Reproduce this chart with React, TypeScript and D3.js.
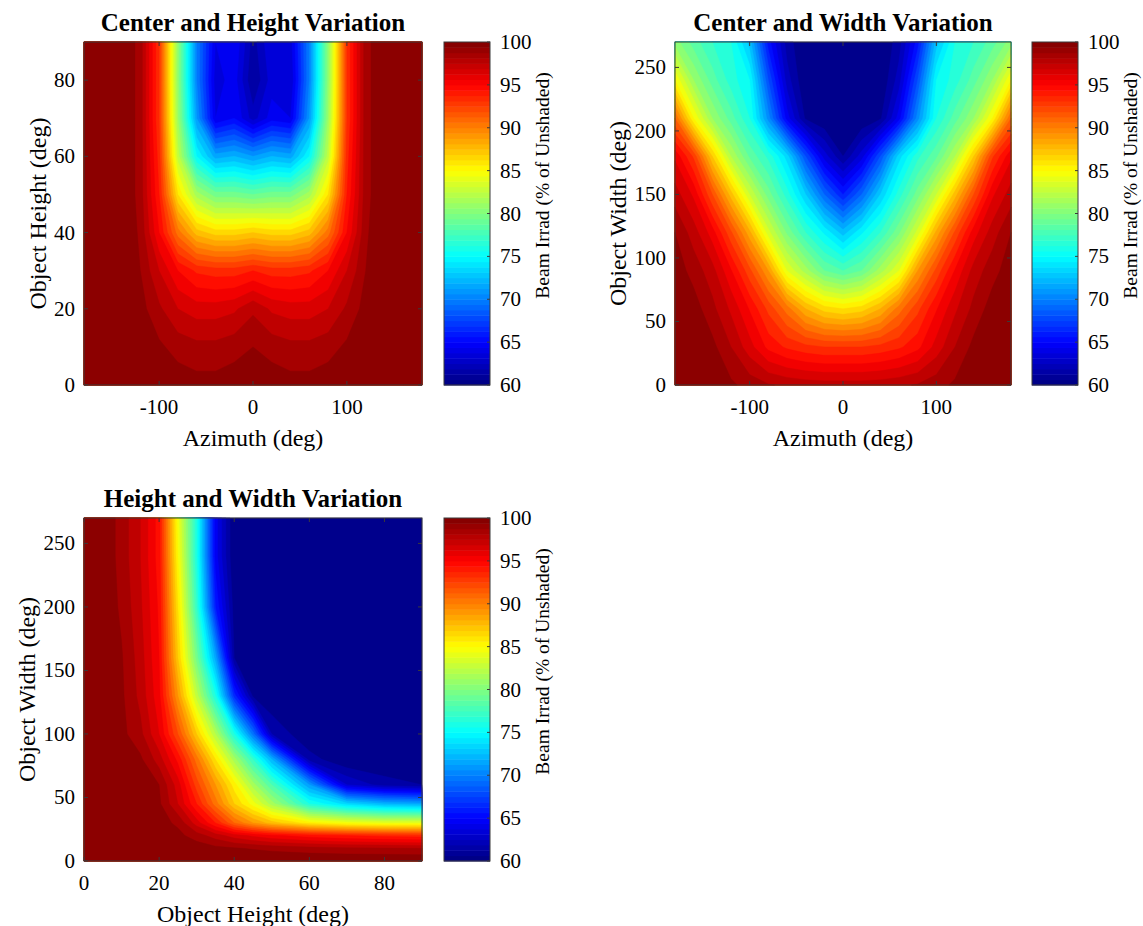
import React from 'react';
import * as d3 from 'd3';

const FONT = '"Liberation Serif", "Times New Roman", serif';

// ---- Center and Height Variation (azimuth x object height) ----
const azimuthCols = [-180, -160, -140, -120, -100, -80, -60, -40, -20, 0, 20, 40, 60, 80, 100, 120, 140, 160, 180];
const heightRowsA = [0, 10, 20, 30, 40, 50, 60, 70, 80, 90];
const irradCenterHeight = [
  [100, 100, 100, 100, 99.8, 99.6, 99.4, 99.4, 99.6, 99.8, 99.6, 99.4, 99.4, 99.6, 99.8, 100, 100, 100, 100],
  [100, 100, 100, 99.7, 99.2, 98.6, 98.3, 98.3, 98.6, 99, 98.6, 98.3, 98.3, 98.6, 99.2, 99.7, 100, 100, 100],
  [100, 100, 100, 99.4, 98.2, 97, 96.5, 96.5, 96.8, 97.8, 96.8, 96.5, 96.5, 97, 98.2, 99.4, 100, 100, 100],
  [100, 100, 100, 99, 97, 95, 93.8, 93.5, 93.5, 94, 93.5, 93.5, 93.8, 95, 97, 99, 100, 100, 100],
  [100, 100, 100, 98.8, 95, 90.5, 87.5, 86.5, 86.5, 87, 86.5, 86.5, 87.5, 90.5, 95, 98.8, 100, 100, 100],
  [100, 100, 100, 98.6, 94, 86, 81.5, 79.5, 79.5, 79, 79.5, 79.5, 81.5, 86, 94, 98.6, 100, 100, 100],
  [100, 100, 100, 98.6, 93.5, 82.5, 75, 71.5, 72, 71, 72, 71.5, 75, 82.5, 93.5, 98.6, 100, 100, 100],
  [100, 100, 100, 98.6, 93, 81, 71, 64, 65, 62.5, 64.5, 64, 71, 81, 93, 98.6, 100, 100, 100],
  [100, 100, 100, 98.6, 93, 80.5, 70, 63.5, 64.5, 61, 63.5, 63, 70, 80.5, 93, 98.6, 100, 100, 100],
  [100, 100, 100, 98.6, 93, 80.5, 70, 64, 65, 61.5, 64, 63.5, 70, 80.5, 93, 98.6, 100, 100, 100],
];

// ---- Center and Width Variation (azimuth x object width) ----
const widthRowsB = [0, 30, 60, 90, 120, 150, 180, 210, 240, 270];
const irradCenterWidth = [
  [100, 100, 99.8, 99.2, 98.6, 98.1, 97.8, 97.6, 97.5, 97.5, 97.5, 97.6, 97.8, 98.1, 98.6, 99.2, 99.8, 100, 100],
  [100, 100, 99.3, 98, 96.4, 94.7, 93.8, 93.3, 93, 93, 93, 93.3, 93.8, 94.7, 96.4, 98, 99.3, 100, 100],
  [100, 99.5, 98.3, 96.8, 94.9, 92.7, 90.5, 88, 86.5, 86, 86.5, 88, 90.5, 92.7, 94.9, 96.8, 98.3, 99.5, 100],
  [99.6, 98.6, 97.4, 95.1, 92.3, 89, 84, 81.5, 79, 78, 79, 81.5, 84, 89, 92.3, 95.1, 97.4, 98.6, 99.6],
  [99, 97.5, 95.5, 92.2, 88.3, 83.4, 79.8, 77, 74.8, 72.5, 74.8, 77, 79.8, 83.4, 88.3, 92.2, 95.5, 97.5, 99],
  [97.5, 95.8, 92, 87.5, 83, 79.5, 76.5, 73, 69, 66, 69, 73, 76.5, 79.5, 83, 87.5, 92, 95.8, 97.5],
  [95.8, 92.8, 87, 82, 78.8, 76.7, 73.5, 68, 63.5, 61, 63.5, 68, 73.5, 76.7, 78.8, 82, 87, 92.8, 95.8],
  [91, 85, 81, 78.5, 76, 70.5, 64.5, 60.8, 60, 60, 60, 60.8, 64.5, 70.5, 76, 78.5, 81, 85, 91],
  [85, 81, 78.5, 76.5, 75, 68, 62.5, 60, 60, 60, 60, 60, 62.5, 68, 75, 76.5, 78.5, 81, 85],
  [80.5, 78.5, 77, 76, 72.5, 65.5, 61.5, 60, 60, 60, 60, 60, 61.5, 65.5, 72.5, 76, 77, 78.5, 80.5],
];

// ---- Height and Width Variation (object height x object width) ----
const heightColsC = [0, 5, 10, 15, 20, 25, 30, 35, 40, 45, 50, 60, 70, 80, 90];
const widthRowsC = [0, 10, 20, 30, 45, 60, 80, 100, 130, 160, 200, 240, 270];
const irradHeightWidth = [
  [100, 100, 100, 100, 100, 100, 100, 100, 100, 100, 100, 100, 100, 100, 100],
  [100, 100, 100, 100, 100, 99.9, 99.6, 99.3, 99.1, 98.9, 98.7, 98.4, 98.2, 98.1, 98],
  [100, 100, 100, 99.9, 99.7, 99.3, 98.5, 97.5, 96.5, 95.8, 95.2, 94.5, 94, 93.7, 93.5],
  [100, 100, 99.9, 99.7, 99.4, 98.8, 96.5, 94, 91, 89, 87.5, 85.5, 84.5, 84, 84],
  [100, 99.9, 99.8, 99.6, 99.2, 97, 94, 90.5, 87, 84.5, 81.5, 76, 73.5, 72, 71.5],
  [100, 99.9, 99.7, 99.4, 99, 96.5, 92.5, 89, 85.5, 81.5, 78, 71, 63, 61.5, 61],
  [100, 99.9, 99.6, 99.2, 97.5, 94.7, 90.5, 86, 81.5, 77, 72, 61.5, 60, 60, 60],
  [100, 99.8, 99.3, 98.3, 96, 92, 87, 82, 76, 69.5, 62, 60, 60, 60, 60],
  [100, 99.8, 99.2, 97.7, 95.3, 89, 82.5, 76, 66.5, 60.8, 60, 60, 60, 60, 60],
  [100, 99.8, 99.1, 97.5, 95, 87, 79.5, 71.5, 61, 60, 60, 60, 60, 60, 60],
  [100, 99.8, 98.8, 97.2, 94.8, 86, 77, 66, 60.5, 60, 60, 60, 60, 60, 60],
  [100, 99.8, 98.6, 97, 94.5, 85, 76, 64.5, 60, 60, 60, 60, 60, 60, 60],
  [100, 99.8, 98.6, 97, 94.5, 84.5, 76, 64.5, 60, 60, 60, 60, 60, 60, 60],
];

const azimuthTicks = [-100, 0, 100];
const heightTicks = [0, 20, 40, 60, 80];
const widthTicks = [0, 50, 100, 150, 200, 250];
const colorTicks = [60, 65, 70, 75, 80, 85, 90, 95, 100];
const levels = d3.range(60, 100, 1);

function jet(t: number) {
  const c = (v: number) => Math.max(0, Math.min(1, v));
  const r = c(1.5 - Math.abs(4 * t - 3));
  const g = c(1.5 - Math.abs(4 * t - 2));
  const b = c(1.5 - Math.abs(4 * t - 1));
  return d3.rgb(r * 255, g * 255, b * 255).formatHex();
}

const levelColor = (v: number) => jet((v - 60) / 40);

type PanelProps = {
  left: number; top: number; width: number; height: number;
  cols: number[]; rows: number[]; grid: number[][];
  xTicks: number[]; yTicks: number[];
  title: string; xLabel: string; yLabel: string;
  yLabelX: number; cbLeft: number;
};

function Panel(p: PanelProps) {
  const { left, top, width, height, cols, rows, grid } = p;
  const nx = cols.length, ny = rows.length;
  const x = d3.scaleLinear().domain([cols[0], cols[nx - 1]]).range([left, left + width]);
  const y = d3.scaleLinear().domain([rows[0], rows[ny - 1]]).range([top + height, top]);
  // grid index -> data value (rows/cols may be unevenly spaced)
  const colAt = d3.scaleLinear().domain(d3.range(nx)).range(cols).clamp(true);
  const rowAt = d3.scaleLinear().domain(d3.range(ny)).range(rows).clamp(true);
  const proj = d3.geoTransform({
    point: function (this: any, gx: number, gy: number) {
      this.stream.point(x(colAt(gx - 0.5)), y(rowAt(gy - 0.5)));
    },
  });
  const path = d3.geoPath(proj);
  const bands = d3.contours().size([nx, ny]).thresholds(levels)(grid.flat());

  const cbW = 46;
  const cb = d3.scaleLinear().domain([60, 100]).range([top + height, top]);
  const cbSteps = d3.range(64);
  const tick = 4;
  const stroke = '#3a3a3a';
  const midX = left + width / 2;
  const midY = top + height / 2;

  return (
    <g>
      <g>
        {bands.map((b, i) => (
          <path key={i} d={path(b as any) || ''} fill={levelColor(b.value + 0.5)}
            stroke={levelColor(b.value + 0.5)} strokeWidth={0.4} />
        ))}
      </g>
      <rect x={left} y={top} width={width} height={height} fill="none" stroke={stroke} strokeWidth={1} />
      {p.xTicks.map((t) => (
        <g key={'x' + t}>
          <line x1={x(t)} x2={x(t)} y1={top + height} y2={top + height - tick} stroke={stroke} />
          <line x1={x(t)} x2={x(t)} y1={top} y2={top + tick} stroke={stroke} />
          <text x={x(t)} y={top + height + 29} textAnchor="middle" fontSize={21} fontFamily={FONT}>{t}</text>
        </g>
      ))}
      {p.yTicks.map((t) => (
        <g key={'y' + t}>
          <line x1={left} x2={left + tick} y1={y(t)} y2={y(t)} stroke={stroke} />
          <line x1={left + width} x2={left + width - tick} y1={y(t)} y2={y(t)} stroke={stroke} />
          <text x={left - 9} y={y(t) + 7} textAnchor="end" fontSize={21} fontFamily={FONT}>{t}</text>
        </g>
      ))}
      <text x={midX} y={top - 11} textAnchor="middle" fontSize={25} fontWeight="bold" fontFamily={FONT}>{p.title}</text>
      <text x={midX} y={top + height + 61} textAnchor="middle" fontSize={24} fontFamily={FONT}>{p.xLabel}</text>
      <text transform={`translate(${p.yLabelX},${midY}) rotate(-90)`} textAnchor="middle" fontSize={24} fontFamily={FONT}>{p.yLabel}</text>

      <g>
        {cbSteps.map((k) => (
          <rect key={k} x={p.cbLeft} width={cbW}
            y={cb(60 + (40 * (k + 1)) / 64)} height={cb(60 + (40 * k) / 64) - cb(60 + (40 * (k + 1)) / 64) + 0.5}
            fill={jet((k + 0.5) / 64)} />
        ))}
        <rect x={p.cbLeft} y={top} width={cbW} height={height} fill="none" stroke={stroke} strokeWidth={1} />
        {colorTicks.map((t) => (
          <g key={'c' + t}>
            <line x1={p.cbLeft + cbW} x2={p.cbLeft + cbW - 3} y1={cb(t)} y2={cb(t)} stroke={stroke} />
            <text x={p.cbLeft + cbW + 10} y={cb(t) + 7} fontSize={21} fontFamily={FONT}>{t}</text>
          </g>
        ))}
        <text transform={`translate(${p.cbLeft + cbW + 59},${midY - 28}) rotate(-90)`} textAnchor="middle"
          fontSize={19.5} fontFamily={FONT}>Beam Irrad (% of Unshaded)</text>
      </g>
    </g>
  );
}

export default function App() {
  return (
    <svg width={1143} height={926} style={{ position: 'absolute', left: 0, top: 0, background: '#fff' }}>
      <Panel left={84} top={42} width={338} height={343}
        cols={azimuthCols} rows={heightRowsA} grid={irradCenterHeight}
        xTicks={azimuthTicks} yTicks={heightTicks}
        title="Center and Height Variation" xLabel="Azimuth (deg)" yLabel="Object Height (deg)"
        yLabelX={46} cbLeft={444} />
      <Panel left={675} top={42} width={336} height={343}
        cols={azimuthCols} rows={widthRowsB} grid={irradCenterWidth}
        xTicks={azimuthTicks} yTicks={widthTicks}
        title="Center and Width Variation" xLabel="Azimuth (deg)" yLabel="Object Width (deg)"
        yLabelX={626} cbLeft={1032} />
      <Panel left={84} top={518} width={338} height={343}
        cols={heightColsC} rows={widthRowsC} grid={irradHeightWidth}
        xTicks={heightTicks} yTicks={widthTicks}
        title="Height and Width Variation" xLabel="Object Height (deg)" yLabel="Object Width (deg)"
        yLabelX={35} cbLeft={444} />
    </svg>
  );
}
